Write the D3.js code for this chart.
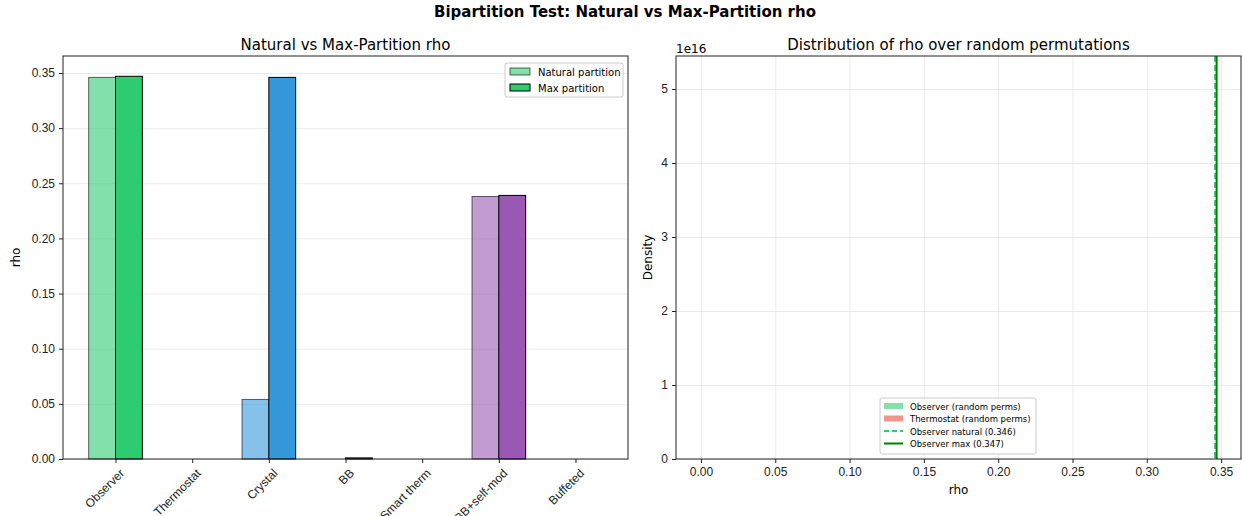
<!DOCTYPE html>
<html>
<head>
<meta charset="utf-8">
<script src="https://cdn.jsdelivr.net/npm/d3@7"></script>
<style>
  body { margin: 0; background: #fff; }
  svg { font-family: "DejaVu Sans", sans-serif; }
  .grid line { stroke: #e6e6e6; stroke-width: 0.8; }
  .grid path { display: none; }
  .axis text { font-size: 12px; fill: #222; }
  .axis line { stroke: #222; }
  .axis path { display: none; }
</style>
</head>
<body>
<svg id="chart" width="1242" height="516"></svg>
<script>
// data
const systems = ["Observer", "Thermostat", "Crystal", "BB", "Smart therm", "BB+self-mod", "Buffeted"];
const colors = ["#2ecc71", "#e74c3c", "#3498db", "#34495e", "#f39c12", "#9b59b6", "#95a5a6"];
const naturalRho = [0.346, 0.0, 0.054, 0.0, 0.0, 0.238, 0.0];
const maxRho = [0.347, 0.0, 0.346, 0.001, 0.0, 0.239, 0.0];
const leftYTicks = [0, 0.05, 0.10, 0.15, 0.20, 0.25, 0.30, 0.35];
const rightXTicks = [0, 0.05, 0.10, 0.15, 0.20, 0.25, 0.30, 0.35];
const rightYTicks = [0, 1, 2, 3, 4, 5];
const refLines = [
  { label: "Observer natural (0.346)", value: 0.346, color: "#2ecc71", dash: "6,3" },
  { label: "Observer max (0.347)", value: 0.347, color: "#008000", dash: null }
];
const histLegend = [
  { label: "Observer (random perms)", color: "#2ecc71" },
  { label: "Thermostat (random perms)", color: "#e74c3c" }
];

const svg = d3.select("#chart");

svg.append("text")
  .attr("x", 625).attr("y", 17)
  .attr("text-anchor", "middle")
  .attr("font-size", 15).attr("font-weight", "bold")
  .text("Bipartition Test: Natural vs Max-Partition rho");

// ---------- left panel ----------
const L = { left: 63, right: 628, top: 56, bottom: 459 };
const barW = 0.35;
const x = d3.scaleLinear().domain([-0.685, 6.685]).range([L.left, L.right]);
const y = d3.scaleLinear().domain([0, 0.3654]).range([L.bottom, L.top]);
const gl = svg.append("g");

gl.append("g").attr("class", "grid")
  .attr("transform", `translate(${L.left},0)`)
  .call(d3.axisLeft(y).tickValues(leftYTicks).tickSize(-(L.right - L.left)).tickFormat(""));

systems.forEach((s, i) => {
  gl.append("rect")
    .attr("x", x(i - barW)).attr("width", x(barW) - x(0))
    .attr("y", y(naturalRho[i])).attr("height", y(0) - y(naturalRho[i]))
    .attr("fill", colors[i]).attr("fill-opacity", 0.6)
    .attr("stroke", "#000").attr("stroke-opacity", 0.6).attr("stroke-width", 1);
  gl.append("rect")
    .attr("x", x(i)).attr("width", x(barW) - x(0))
    .attr("y", y(maxRho[i])).attr("height", y(0) - y(maxRho[i]))
    .attr("fill", colors[i])
    .attr("stroke", "#000").attr("stroke-width", 1);
});

gl.append("g").attr("class", "axis")
  .attr("transform", `translate(${L.left},0)`)
  .call(d3.axisLeft(y).tickValues(leftYTicks).tickFormat(d3.format(".2f")).tickSize(4).tickPadding(4));

const xa = gl.append("g").attr("class", "axis")
  .attr("transform", `translate(0,${L.bottom})`)
  .call(d3.axisBottom(x).tickValues(d3.range(systems.length)).tickFormat(i => systems[i]).tickSize(4));
xa.selectAll("text")
  .attr("font-size", 10)
  .attr("text-anchor", "end")
  .attr("dy", 0)
  .attr("transform", "translate(4,10) rotate(-45)");

gl.append("rect")
  .attr("x", L.left).attr("y", L.top)
  .attr("width", L.right - L.left).attr("height", L.bottom - L.top)
  .attr("fill", "none").attr("stroke", "#222").attr("stroke-width", 1);

gl.append("text")
  .attr("x", (L.left + L.right) / 2).attr("y", 50)
  .attr("text-anchor", "middle").attr("font-size", 15)
  .text("Natural vs Max-Partition rho");

gl.append("text")
  .attr("transform", `translate(20,${(L.top + L.bottom) / 2}) rotate(-90)`)
  .attr("text-anchor", "middle").attr("font-size", 12)
  .text("rho");

// left legend
const lg = gl.append("g").attr("transform", "translate(505,63)");
lg.append("rect").attr("width", 118).attr("height", 34).attr("rx", 2)
  .attr("fill", "#fff").attr("fill-opacity", 0.8).attr("stroke", "#ccc");
[["Natural partition", 0.6], ["Max partition", 1]].forEach(([label, op], k) => {
  const row = lg.append("g").attr("transform", `translate(5,${5 + k * 16})`);
  row.append("rect").attr("width", 20).attr("height", 7)
    .attr("fill", colors[0]).attr("fill-opacity", op)
    .attr("stroke", "#000").attr("stroke-opacity", op);
  row.append("text").attr("x", 28).attr("y", 7.5).attr("font-size", 10).text(label);
});

// ---------- right panel ----------
const R = { left: 676, right: 1241, top: 56, bottom: 459 };
const xr = d3.scaleLinear().domain([-0.0168, 0.3634]).range([R.left, R.right]);
const yr = d3.scaleLinear().domain([0, 5.446]).range([R.bottom, R.top]);
const gr = svg.append("g");

gr.append("g").attr("class", "grid")
  .attr("transform", `translate(${R.left},0)`)
  .call(d3.axisLeft(yr).tickValues(rightYTicks).tickSize(-(R.right - R.left)).tickFormat(""));
gr.append("g").attr("class", "grid")
  .attr("transform", `translate(0,${R.bottom})`)
  .call(d3.axisBottom(xr).tickValues(rightXTicks).tickSize(-(R.bottom - R.top)).tickFormat(""));

refLines.forEach(r => {
  gr.append("line")
    .attr("x1", xr(r.value)).attr("x2", xr(r.value))
    .attr("y1", R.top).attr("y2", R.bottom)
    .attr("stroke", r.color).attr("stroke-width", 2)
    .attr("stroke-dasharray", r.dash);
});

gr.append("g").attr("class", "axis")
  .attr("transform", `translate(${R.left},0)`)
  .call(d3.axisLeft(yr).tickValues(rightYTicks).tickFormat(d3.format("d")).tickSize(4).tickPadding(4));
gr.append("g").attr("class", "axis")
  .attr("transform", `translate(0,${R.bottom})`)
  .call(d3.axisBottom(xr).tickValues(rightXTicks).tickFormat(d3.format(".2f")).tickSize(4).tickPadding(4));

gr.append("rect")
  .attr("x", R.left).attr("y", R.top)
  .attr("width", R.right - R.left).attr("height", R.bottom - R.top)
  .attr("fill", "none").attr("stroke", "#222").attr("stroke-width", 1);

gr.append("text").attr("x", R.left).attr("y", 53).attr("font-size", 12).text("1e16");

gr.append("text")
  .attr("x", (R.left + R.right) / 2).attr("y", 50)
  .attr("text-anchor", "middle").attr("font-size", 15)
  .text("Distribution of rho over random permutations");

gr.append("text")
  .attr("x", (R.left + R.right) / 2).attr("y", 494)
  .attr("text-anchor", "middle").attr("font-size", 12)
  .text("rho");

gr.append("text")
  .attr("transform", `translate(652,${(R.top + R.bottom) / 2}) rotate(-90)`)
  .attr("text-anchor", "middle").attr("font-size", 12)
  .text("Density");

// right legend
const rg = gr.append("g").attr("transform", "translate(880,398)");
rg.append("rect").attr("width", 156).attr("height", 56).attr("rx", 2)
  .attr("fill", "#fff").attr("fill-opacity", 0.8).attr("stroke", "#ccc");
histLegend.forEach((h, k) => {
  const row = rg.append("g").attr("transform", `translate(4,${5 + k * 12.5})`);
  row.append("rect").attr("width", 19).attr("height", 6)
    .attr("fill", h.color).attr("fill-opacity", 0.6);
  row.append("text").attr("x", 26).attr("y", 6.5).attr("font-size", 8.5).text(h.label);
});
refLines.forEach((r, k) => {
  const row = rg.append("g").attr("transform", `translate(4,${5 + (k + 2) * 12.5})`);
  row.append("line").attr("x1", 0).attr("x2", 19).attr("y1", 3).attr("y2", 3)
    .attr("stroke", r.color).attr("stroke-width", 2)
    .attr("stroke-dasharray", r.dash ? "5,3" : null);
  row.append("text").attr("x", 26).attr("y", 6.5).attr("font-size", 8.5).text(r.label);
});
</script>
</body>
</html>
